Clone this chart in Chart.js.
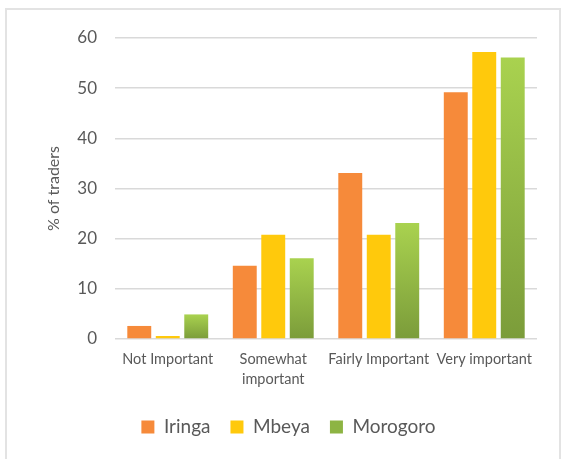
<!DOCTYPE html>
<html>
<head>
<meta charset="utf-8">
<script src="https://cdn.jsdelivr.net/npm/chart.js@4.4.1/dist/chart.umd.min.js"></script>
<style>
  html, body { margin: 0; padding: 0; background: #fff; }
  #wrap { position: relative; width: 564px; height: 459px; overflow: hidden; }
  #frame { position: absolute; left: 5px; top: 8px; width: 556px; height: 460px; border: 2px solid #e3e3e3; box-sizing: border-box; }
  canvas { position: absolute; left: 0; top: 0; }
</style>
</head>
<body>
<div id="wrap">
  <div id="frame"></div>
  <canvas id="c" width="564" height="459"></canvas>
</div>
<script>
const categories = [["Not Important"], ["Somewhat", "important"], ["Fairly Important"], ["Very important"]];
const seriesNames = ["Iringa", "Mbeya", "Morogoro"];
const iringa = [2.6, 14.6, 33.1, 49.2];
const mbeya = [0.6, 20.8, 20.8, 57.2];
const morogoro = [4.9, 16.1, 23.1, 56.1];
const yTicks = [0, 10, 20, 30, 40, 50, 60];

const FONT = "Lato, 'Open Sans', sans-serif";
const GREY = "#595959";

function greenFill(ctx) {
  const chart = ctx.chart;
  const area = chart.chartArea;
  const c = chart.ctx;
  if (!area) return "#98c04a";
  let top = area.top, bottom = area.bottom;
  if (ctx.type === "data" && chart.scales && chart.scales.y) {
    top = chart.scales.y.getPixelForValue(ctx.raw);
    bottom = chart.scales.y.getPixelForValue(0);
    if (!(bottom - top > 1)) { bottom = top + 2; }
  } else {
    return "#8fb544";
  }
  const g = c.createLinearGradient(0, top, 0, bottom);
  g.addColorStop(0, "#a9d24f");
  g.addColorStop(1, "#7b9c3a");
  return g;
}

new Chart(document.getElementById("c"), {
  type: "bar",
  data: {
    labels: categories,
    datasets: [
      { label: seriesNames[0], data: iringa, backgroundColor: "#f68a3a" },
      { label: seriesNames[1], data: mbeya, backgroundColor: "#ffc90c" },
      { label: seriesNames[2], data: morogoro, backgroundColor: greenFill }
    ]
  },
  options: {
    responsive: false,
    animation: false,
    devicePixelRatio: 1,
    layout: { padding: { left: 40, right: 27, top: 38, bottom: 12.5 } },
    datasets: { bar: { categoryPercentage: 0.81, barPercentage: 0.84 } },
    scales: {
      x: {
        grid: { display: false, drawTicks: false },
        border: { display: false },
        ticks: { color: GREY, font: { family: FONT, size: 14.5, lineHeight: 1.35 }, padding: 11, maxRotation: 0, autoSkip: false },
        afterFit: (s) => { s.height = 58.5; }
      },
      y: {
        min: 0, max: 60,
        afterBuildTicks: (s) => { s.ticks = yTicks.map(v => ({ value: v })); },
        grid: { color: "#d9d9d9", lineWidth: 1.5, drawTicks: false },
        border: { display: false },
        ticks: { color: GREY, font: { family: FONT, size: 17 }, padding: 18 },
        title: { display: true, text: "% of traders", color: GREY, font: { family: FONT, size: 16 }, padding: { top: 4, bottom: 0 } },
        afterFit: (s) => { s.width = 75; }
      }
    },
    plugins: {
      legend: {
        position: "bottom",
        labels: {
          color: GREY,
          font: { family: FONT, size: 19 },
          boxWidth: 13, boxHeight: 13,
          padding: 20,
          generateLabels: (chart) => chart.data.datasets.map((d, i) => ({
            text: d.label,
            fillStyle: i === 2 ? "#8db443" : d.backgroundColor,
            strokeStyle: "rgba(0,0,0,0)",
            lineWidth: 0,
            datasetIndex: i,
            fontColor: GREY
          }))
        }
      },
      tooltip: { enabled: false }
    }
  }
});
</script>
</body>
</html>
